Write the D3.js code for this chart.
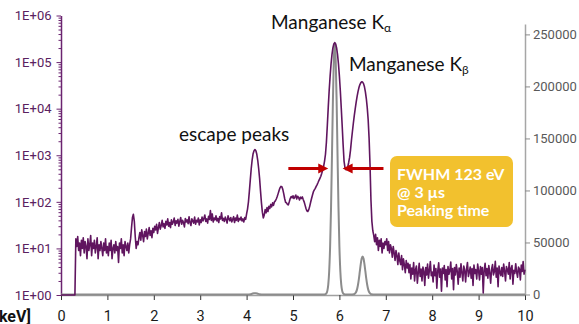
<!DOCTYPE html>
<html>
<head>
<meta charset="utf-8">
<script src="https://cdn.jsdelivr.net/npm/d3@7"></script>
<style>
html, body { margin: 0; padding: 0; background: #fff; overflow: hidden; }
svg { display: block; }
</style>
</head>
<body>
<svg id="chart" width="579" height="324"></svg>
<script>
// spectrum bins, 20 eV wide, starting at 0 keV
var binStart = 0;
var binWidth = 0.02;

// counts per bin, log view (one line = 0.5 keV)
var purpleCounts = [
  1, 1, 1, 1, 1, 1, 1, 1, 1, 1, 1, 1, 1, 1, 1, 1, 16, 11, 18, 9, 13, 7, 15, 10, 17,
  8, 14, 11, 6, 16, 9, 12, 19, 7, 13, 10, 15, 8, 11, 17, 6, 12, 9, 14, 10, 7, 13, 9, 16, 8,
  11, 7, 13, 9, 15, 6, 10, 12, 8, 14, 9, 11, 5, 13, 10, 16, 8, 12, 7, 14, 11, 9, 13, 8, 12,
  16, 28, 46, 54, 38, 18, 10, 14, 12, 17, 22, 15, 25, 19, 14, 23, 18, 26, 16, 21, 28, 19, 24, 17, 27,
  22, 30, 25, 33, 21, 28, 36, 26, 31, 40, 29, 34, 27, 38, 32, 43, 30, 36, 28, 41, 33, 37, 45, 31, 39,
  35, 42, 30, 38, 46, 33, 40, 36, 29, 44, 37, 41, 34, 48, 36, 31, 43, 39, 35, 47, 33, 40, 37, 45, 32,
  41, 36, 47, 39, 44, 52, 38, 43, 35, 49, 42, 65, 40, 55, 37, 45, 41, 50, 39, 44, 36, 48, 43, 58, 40,
  44, 38, 47, 41, 35, 50, 43, 39, 46, 37, 42, 48, 36, 45, 40, 52, 38, 44, 41, 47, 39, 43, 37, 46, 42,
  55, 70, 100, 170, 300, 520, 800, 1080, 1250, 1320, 1250, 1050, 780, 520, 320, 170, 95, 60, 45, 52, 68, 58, 75, 62, 80,
  72, 88, 78, 95, 84, 100, 105, 115, 130, 150, 175, 200, 215, 210, 185, 150, 118, 98, 95, 88, 86, 100, 118, 130, 122,
  135, 118, 128, 140, 115, 132, 124, 110, 126, 118, 128, 112, 100, 85, 72, 64, 62, 68, 80, 98, 118, 140, 165, 180, 195,
  215, 235, 260, 290, 320, 355, 410, 480, 580, 750, 1050, 1900, 4400, 10800, 24800, 50000, 91000, 144600, 201000, 245000, 262000, 245000, 201000, 144600, 91000,
  50000, 24300, 10300, 4300, 1700, 750, 540, 490, 500, 560, 700, 900, 1300, 2100, 3200, 4800, 7000, 9800, 13500, 18000, 23000, 28000, 32500, 35800, 37800,
  37200, 34500, 29500, 23000, 16500, 10500, 5800, 2300, 620, 110, 38, 24, 19, 14, 20, 12, 17, 9, 15, 11, 16, 8, 13, 10, 14,
  12, 16, 9, 14, 8, 12, 10, 6.5, 11, 8, 5.5, 9, 7, 4.5, 8, 5.5, 4.5, 7, 3.5, 6, 4.5, 3, 5.5, 3.8, 4.8,
  3, 4.5, 2.2, 3.8, 2.8, 5, 2, 3.5, 4.2, 1.8, 3, 4.8, 2.5, 3.6, 2, 4, 3.2, 1.6, 3.9, 2.7, 4.6, 2.3, 3.4, 5.2, 2.6,
  3.1, 1.9, 4.4, 2.6, 3.7, 1.4, 3.3, 4.9, 2.4, 3.6, 1.2, 3.8, 2.9, 4.3, 2.1, 3.5, 1.5, 4.1, 2.8, 3.3, 5.1, 2.2, 3.7, 1.3, 3.9,
  2.7, 4.5, 3.2, 1.7, 3.8, 2.4, 4.7, 3, 2, 4.2, 3.4, 1.9, 3.6, 5, 2.5, 3.1, 4, 2.3, 3.7, 1.6, 4.4, 2.9, 3.5, 2.2, 4.6,
  3.3, 2.1, 4.1, 2.8, 3.9, 1.1, 3.4, 4.8, 2.6, 3.7, 2.3, 4.3, 3, 1.8, 3.6, 4.5, 2.7, 3.2, 5.3, 2.4, 3.8, 1.5, 4.2, 3.1, 2.6,
  3.9, 2.5, 4.6, 3.3, 2, 4.1, 3.5, 2.8, 5, 2.2, 3.7, 4.3, 1.7, 3.4, 2.9, 4.7, 3.1, 2.4, 4, 3.6, 2.1, 4.4, 3.2, 5.2, 2.8,
  3.5
];

// linear view of the same spectrum (only the non-zero parts)
var grayEnergy = [
  0, 4.04, 4.08, 4.12, 4.16, 4.20, 4.24, 4.28, 4.32, 4.36,
  5.64, 5.66, 5.68, 5.70, 5.72, 5.74, 5.76, 5.78, 5.80, 5.82, 5.84, 5.86, 5.88, 5.90,
  5.92, 5.94, 5.96, 5.98, 6.00, 6.02, 6.04, 6.06, 6.08, 6.10, 6.12, 6.14, 6.16,
  6.24, 6.26, 6.28, 6.30, 6.32, 6.34, 6.36, 6.38, 6.40, 6.42, 6.44, 6.46, 6.48, 6.50,
  6.52, 6.54, 6.56, 6.58, 6.60, 6.62, 6.64, 6.66, 6.68, 6.70, 6.72, 6.74, 6.76, 10
];
var grayCounts = [
  0, 0, 250, 750, 1200, 1300, 800, 300, 80, 0,
  0, 18, 81, 324, 1145, 3520, 9490, 22400, 46200, 84000, 133600, 185900, 226500, 242000,
  226500, 185900, 133600, 84000, 46200, 22400, 9490, 3520, 1145, 324, 81, 18, 0,
  0, 12, 44, 141, 405, 1044, 2400, 4930, 9090, 15000, 22150, 29240, 34530, 36500,
  34530, 29240, 22150, 15000, 9090, 4930, 2400, 1044, 405, 141, 44, 12, 0, 0
];

var xTicks = [0, 1, 2, 3, 4, 5, 6, 7, 8, 9, 10];
var logTicks = [1, 10, 100, 1e3, 1e4, 1e5, 1e6];
var linTicks = [0, 50000, 100000, 150000, 200000, 250000];

var purple = '#60155f';
var purpleAxis = '#6b2470';
var grayLine = '#8c8c8c';

var svg = d3.select('#chart');

var x = d3.scaleLinear().domain([0, 10]).range([61, 525]);
var yLog = d3.scaleLog().domain([1, 1e6]).range([295, 15.5]);
var yLin = d3.scaleLinear().domain([0, 260000]).range([294.5, 24]);

var purplePts = purpleCounts.map(function (c, i) {
  return { e: binStart + i * binWidth, c: c };
});
var grayPts = grayEnergy.map(function (e, i) {
  return { e: e, c: grayCounts[i] };
});

// x axis
var xAxis = svg.append('g')
  .attr('transform', 'translate(0,295)')
  .call(d3.axisBottom(x).tickValues(xTicks).tickSize(5).tickSizeOuter(0).tickPadding(11));
xAxis.select('.domain').attr('stroke', '#a0a0a0').attr('stroke-width', 1.5);
xAxis.selectAll('.tick line').attr('stroke', '#333');
xAxis.selectAll('text')
  .attr('font-family', 'Roboto, sans-serif')
  .attr('font-size', 14.5)
  .attr('fill', '#1a1a1a');

svg.append('text')
  .attr('x', 31)
  .attr('y', 322)
  .attr('text-anchor', 'end')
  .attr('font-family', 'Roboto, sans-serif')
  .attr('font-weight', 'bold')
  .attr('font-size', 16)
  .attr('fill', '#111')
  .text('[keV]');

// left log axis: minor ticks then major ticks with labels
var minorTicks = [];
for (var k = 0; k < 6; k++) {
  for (var m = 2; m < 10; m++) minorTicks.push(m * Math.pow(10, k));
}
var minorAxis = svg.append('g')
  .attr('transform', 'translate(61,0)')
  .call(d3.axisLeft(yLog).tickValues(minorTicks).tickSize(2.5).tickSizeOuter(0).tickFormat(''));
minorAxis.selectAll('line').attr('stroke', purpleAxis);
minorAxis.select('.domain').remove();

var leftAxis = svg.append('g')
  .attr('transform', 'translate(61,0)')
  .call(d3.axisLeft(yLog).tickValues(logTicks).tickSize(4.5).tickSizeOuter(0).tickPadding(5)
    .tickFormat(function (d) { return '1E+' + String(Math.round(Math.log10(d))).padStart(2, '0'); }));
leftAxis.select('.domain').attr('stroke', purpleAxis).attr('stroke-width', 1.5);
leftAxis.selectAll('.tick line').attr('stroke', purpleAxis);
leftAxis.selectAll('text')
  .attr('font-family', 'Roboto, sans-serif')
  .attr('font-size', 13)
  .attr('fill', '#5a2160');

// right linear axis
var rightAxis = svg.append('g')
  .attr('transform', 'translate(525,0)')
  .call(d3.axisRight(yLin).tickValues(linTicks).tickSize(5).tickSizeOuter(0).tickPadding(3)
    .tickFormat(d3.format('d')));
rightAxis.select('.domain').attr('stroke', '#a6a6a6').attr('stroke-width', 1.5);
rightAxis.selectAll('.tick line').attr('stroke', '#8c8c8c');
rightAxis.selectAll('text')
  .attr('font-family', 'Roboto, sans-serif')
  .attr('font-size', 13)
  .attr('fill', '#595959');

// gray linear spectrum
svg.append('path')
  .datum(grayPts)
  .attr('fill', 'none')
  .attr('stroke', grayLine)
  .attr('stroke-width', 2)
  .attr('d', d3.line()
    .x(function (d) { return x(d.e); })
    .y(function (d) { return yLin(d.c); })
    .curve(d3.curveMonotoneX));

// purple log spectrum
svg.append('path')
  .datum(purplePts)
  .attr('fill', 'none')
  .attr('stroke', purple)
  .attr('stroke-width', 1.6)
  .attr('stroke-linejoin', 'round')
  .attr('d', d3.line()
    .x(function (d) { return x(d.e); })
    .y(function (d) { return yLog(Math.max(d.c, 1)); }));

// annotations
function label(txt, sub, px, py) {
  var t = svg.append('text')
    .attr('x', px).attr('y', py)
    .attr('font-family', 'Lato, sans-serif')
    .attr('font-size', 19)
    .attr('fill', '#111');
  t.append('tspan').text(txt);
  if (sub) {
    t.append('tspan').attr('font-size', 12).attr('dy', 3).text(sub);
  }
}
label('Manganese K', '\u03b1', 271, 29);
label('Manganese K', '\u03b2', 349, 71);
label('escape peaks', null, 179, 141);

// FWHM arrows at half maximum of the gray K-alpha peak
var halfY = yLin(121000);
var red = '#c00000';
function arrow(fromE, toE) {
  var x0 = x(fromE), x1 = x(toE);
  var dir = x1 > x0 ? 1 : -1;
  svg.append('line')
    .attr('x1', x0).attr('y1', halfY)
    .attr('x2', x1 - dir * 8).attr('y2', halfY)
    .attr('stroke', red).attr('stroke-width', 3);
  svg.append('path')
    .attr('d', 'M' + x1 + ',' + halfY + 'L' + (x1 - dir * 10) + ',' + (halfY - 5) +
      'L' + (x1 - dir * 10) + ',' + (halfY + 5) + 'Z')
    .attr('fill', red);
}
arrow(4.9, 5.76);
arrow(6.95, 6.07);

// yellow info box
svg.append('rect')
  .attr('x', 390).attr('y', 156)
  .attr('width', 123).attr('height', 71)
  .attr('rx', 7)
  .attr('fill', '#f2c12e');
var boxLines = ['FWHM 123 eV', '@ 3 \u00b5s', 'Peaking time'];
svg.selectAll('.boxline')
  .data(boxLines)
  .enter().append('text')
  .attr('class', 'boxline')
  .attr('x', 397)
  .attr('y', function (d, i) { return 180 + i * 17.8; })
  .attr('font-family', 'Lato, sans-serif')
  .attr('font-weight', 'bold')
  .attr('font-size', 16)
  .attr('fill', '#fff')
  .text(function (d) { return d; });
</script>
</body>
</html>
